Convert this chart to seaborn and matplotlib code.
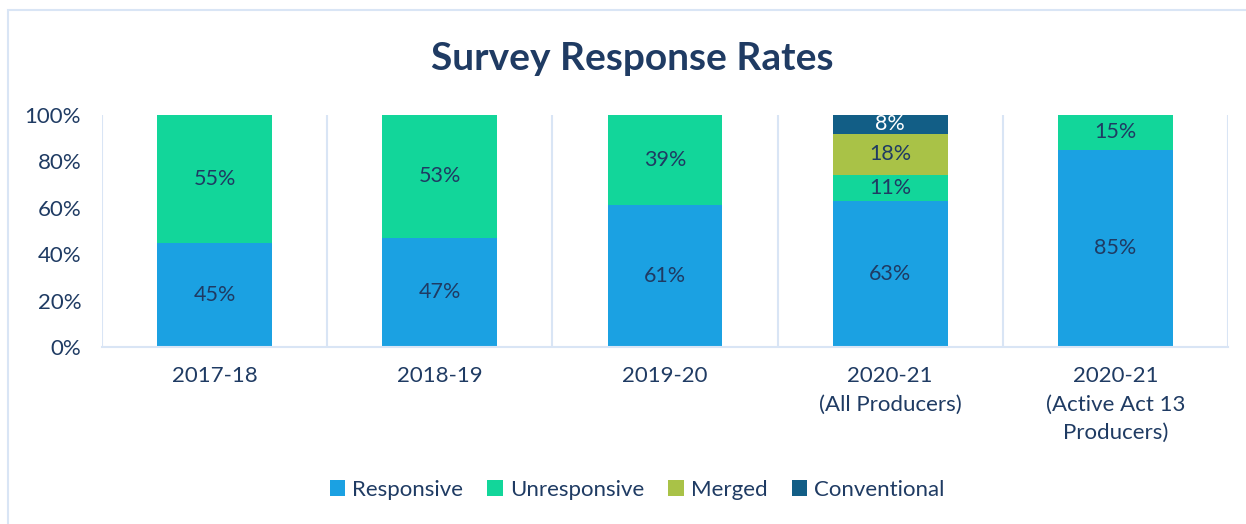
import matplotlib
matplotlib.use("Agg")
import matplotlib.pyplot as plt
from matplotlib.patches import Rectangle, Patch
import pandas as pd
import seaborn as sns

categories = ["2017-18", "2018-19", "2019-20", "2020-21\n(All Producers)",
              "2020-21\n(Active Act 13\nProducers)"]
responsive = [45, 47, 61, 63, 85]
unresponsive = [55, 53, 39, 11, 15]
merged = [0, 0, 0, 18, 0]
conventional = [0, 0, 0, 8, 0]

series = ["Responsive", "Unresponsive", "Merged", "Conventional"]
colors = {"Responsive": "#1BA1E2", "Unresponsive": "#12D69A",
          "Merged": "#A9C247", "Conventional": "#125E86"}
text_color = "#1F3B63"
grid_color = "#D9E5F5"

sns.set_style("white")
plt.rcParams["font.family"] = ["Lato", "DejaVu Sans"]

df = pd.DataFrame({"Year": categories, "Responsive": responsive,
                   "Unresponsive": unresponsive, "Merged": merged,
                   "Conventional": conventional})

fig = plt.figure(figsize=(12.46, 5.24), dpi=100)
ax = fig.add_axes([102 / 1246, 1 - 347 / 524, (1228 - 102) / 1246, (347 - 115) / 524])

# stacked bars: draw cumulative totals from top layer down
cum = df[series].cumsum(axis=1)
for s in reversed(series):
    sns.barplot(x="Year", y=s, data=cum.assign(Year=df["Year"]), color=colors[s],
                width=0.51, ax=ax, saturation=1, edgecolor="none")

# data labels
for i in range(len(categories)):
    base = 0
    for s in series:
        v = df[s][i]
        if v > 0:
            c = "white" if s == "Conventional" else text_color
            ax.text(i, base + v / 2, f"{v}%", ha="center", va="center",
                    fontsize=15.5, color=c)
        base += v

ax.set_ylim(0, 100)
ax.set_xlim(-0.5, len(categories) - 0.5)
ax.set_yticks(range(0, 101, 20))
ax.set_yticklabels([f"{t}%" for t in range(0, 101, 20)], fontsize=16, color=text_color)
ax.set_xticklabels(categories, fontsize=16, color=text_color, linespacing=1.5)
ax.tick_params(axis="y", length=0, pad=15)
ax.tick_params(axis="x", length=0, pad=14)
ax.set_xlabel("")
ax.set_ylabel("")
for sp in ["top", "right", "left"]:
    ax.spines[sp].set_visible(False)
ax.spines["bottom"].set_color(grid_color)
ax.spines["bottom"].set_linewidth(1.5)
for xb in [x - 0.5 for x in range(len(categories) + 1)]:
    ax.axvline(xb, color=grid_color, lw=1.5, zorder=0)

fig.text(632 / 1246, 1 - 58 / 524, "Survey Response Rates", ha="center", va="center",
         fontsize=28, fontweight="bold", color=text_color)

handles = [Patch(facecolor=colors[s], edgecolor="none") for s in series]
fig.legend(handles, series, loc="center", bbox_to_anchor=(637 / 1246, 1 - 490 / 524),
           ncol=4, frameon=False, fontsize=16, labelcolor=text_color,
           handlelength=0.7, handleheight=0.7, handletextpad=0.3, columnspacing=1.1)

fig.patches.append(Rectangle((8 / 1246, -0.05), 1.1, 1 - 10 / 524 + 0.05,
                             transform=fig.transFigure, fill=False,
                             edgecolor=grid_color, lw=1.5))

plt.savefig("out.png", dpi=100)
